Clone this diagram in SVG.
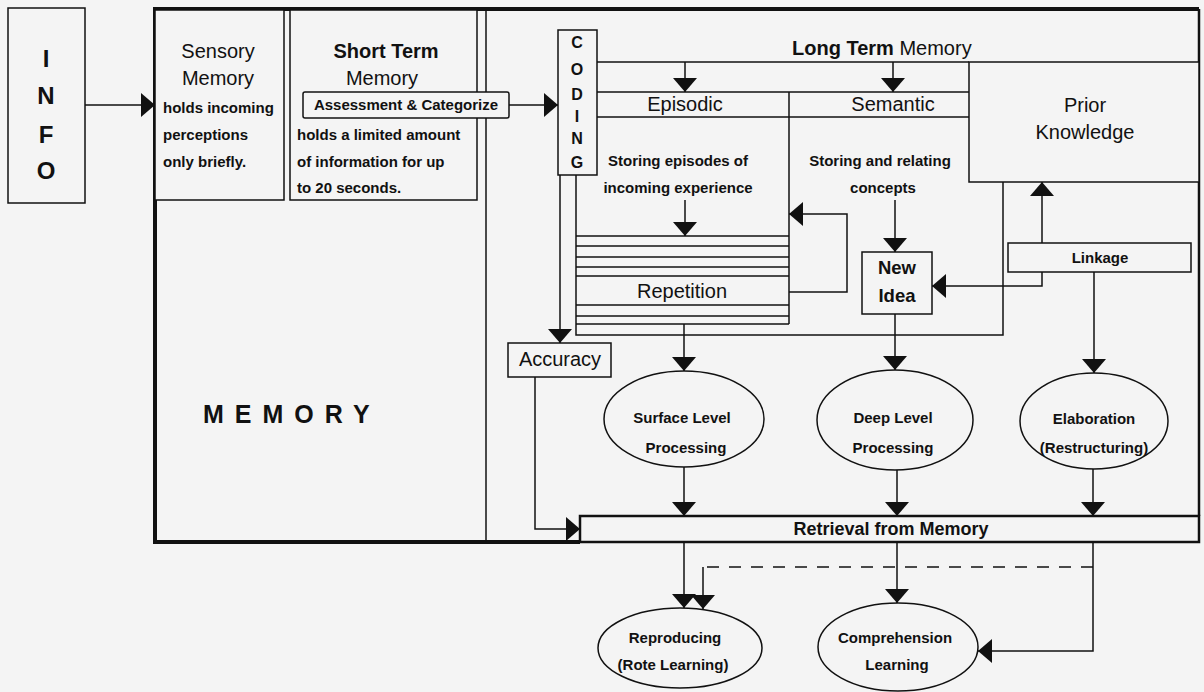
<svg xmlns="http://www.w3.org/2000/svg" width="1204" height="692" viewBox="0 0 1204 692">
<defs>
<marker id="ah" viewBox="0 0 14 24" markerWidth="14" markerHeight="24" refX="14" refY="12" orient="auto" markerUnits="userSpaceOnUse">
<path d="M0,0 L14,12 L0,24 Z" fill="#111"/>
</marker>
</defs>
<style>
text{font-family:"Liberation Sans",Arial,Helvetica,sans-serif;fill:#111}
.b{font-weight:bold}
.t20{font-size:20px}
.t15{font-size:15px;font-weight:bold}
.mid{text-anchor:middle}
.box{fill:#f4f4f4;stroke:#111;stroke-width:1.5}
.ln{fill:none;stroke:#111;stroke-width:1.5}
.arr{fill:none;stroke:#111;stroke-width:1.5;marker-end:url(#ah)}
.thick{fill:none;stroke:#111;stroke-width:4}
</style>
<rect width="1204" height="692" fill="#f4f4f4"/>

<g id="memory-frame">
<path class="thick" d="M580,542 H155 V9 H1199"/>
<path class="ln" d="M1199,9 V516" style="stroke-width:2.5"/>
<path class="ln" d="M486,9 V542"/>
<text x="203" y="423" class="b" style="font-size:25px;letter-spacing:11px">MEMORY</text>
</g>

<g id="info">
<rect class="box" x="8" y="8" width="77" height="195"/>
<text x="46" y="67" class="b mid" style="font-size:24px">I</text>
<text x="46" y="104" class="b mid" style="font-size:24px">N</text>
<text x="46" y="143" class="b mid" style="font-size:24px">F</text>
<text x="46" y="179" class="b mid" style="font-size:24px">O</text>
</g>

<g id="sensory">
<rect class="box" x="155" y="10" width="129" height="190"/>
<text x="218" y="58" class="t20 mid">Sensory</text>
<text x="218" y="85" class="t20 mid">Memory</text>
<text x="163" y="113" class="t15">holds incoming</text>
<text x="163" y="140" class="t15">perceptions</text>
<text x="163" y="167" class="t15">only briefly.</text>
</g>

<g id="short-term">
<rect class="box" x="290" y="10" width="187" height="190"/>
<text x="386" y="58" class="t20 b mid">Short Term</text>
<text x="382" y="85" class="t20 mid">Memory</text>
<text x="297" y="140" class="t15">holds a limited amount</text>
<text x="297" y="167" class="t15">of information for up</text>
<text x="297" y="193" class="t15">to 20 seconds.</text>
</g>

<g id="assessment">
<rect class="box" x="303" y="92" width="206" height="26" rx="2"/>
<text x="406" y="110" class="t15 mid">Assessment &amp; Categorize</text>
</g>

<g id="coding">
<rect class="box" x="558" y="30" width="39" height="145"/>
<text x="577" y="48" class="b mid" style="font-size:16px">C</text>
<text x="577" y="75" class="b mid" style="font-size:16px">O</text>
<text x="577" y="100" class="b mid" style="font-size:16px">D</text>
<text x="577" y="122" class="b mid" style="font-size:16px">I</text>
<text x="577" y="144" class="b mid" style="font-size:16px">N</text>
<text x="577" y="168" class="b mid" style="font-size:16px">G</text>
</g>

<g id="long-term">
<path class="ln" d="M597,62 H969 M597,92 H969 M597,117 H969 M789,92 V324 M576,175 V335 H1003 V182"/>
<text x="792" y="55" class="t20"><tspan class="b">Long Term</tspan> Memory</text>
</g>

<g id="episodic">
<text x="685" y="111" class="t20 mid">Episodic</text>
<text x="678" y="166" class="t15 mid">Storing episodes of</text>
<text x="678" y="193" class="t15 mid">incoming experience</text>
</g>

<g id="semantic">
<text x="893" y="111" class="t20 mid">Semantic</text>
<text x="880" y="166" class="t15 mid">Storing and relating</text>
<text x="883" y="193" class="t15 mid">concepts</text>
</g>

<g id="prior-knowledge">
<rect class="box" x="969" y="62" width="230" height="120"/>
<text x="1085" y="112" class="t20 mid">Prior</text>
<text x="1085" y="139" class="t20 mid">Knowledge</text>
</g>

<g id="repetition">
<path class="ln" d="M576,236 H789 M576,246 H789 M576,257 H789 M576,267 H789 M576,276 H789 M576,305 H789 M576,316 H789 M576,324 H789"/>
<text x="682" y="298" class="t20 mid">Repetition</text>
</g>

<g id="new-idea">
<rect class="box" x="862" y="252" width="70" height="62"/>
<text x="897" y="274" class="b mid" style="font-size:18.5px">New</text>
<text x="897" y="302" class="b mid" style="font-size:18.5px">Idea</text>
</g>

<g id="linkage">
<rect class="box" x="1008" y="243" width="183" height="29"/>
<text x="1100" y="263" class="t15 mid">Linkage</text>
</g>

<g id="accuracy">
<rect class="box" x="508" y="343" width="103" height="34"/>
<text x="560" y="366" class="t20 mid">Accuracy</text>
</g>

<g id="surface">
<ellipse class="box" cx="684" cy="419" rx="80" ry="48"/>
<text x="682" y="423" class="t15 mid">Surface Level</text>
<text x="686" y="453" class="t15 mid">Processing</text>
</g>

<g id="deep">
<ellipse class="box" cx="895" cy="420" rx="78" ry="50"/>
<text x="893" y="423" class="t15 mid">Deep Level</text>
<text x="893" y="453" class="t15 mid">Processing</text>
</g>

<g id="elaboration">
<ellipse class="box" cx="1094" cy="421" rx="74" ry="48"/>
<text x="1094" y="424" class="t15 mid">Elaboration</text>
<text x="1094" y="453" class="t15 mid">(Restructuring)</text>
</g>

<g id="retrieval">
<rect class="box" x="580" y="516" width="619" height="26" style="stroke-width:2.5"/>
<text x="891" y="535" class="b mid" style="font-size:18px">Retrieval from Memory</text>
</g>

<g id="reproducing">
<ellipse class="box" cx="680" cy="648" rx="82" ry="40"/>
<text x="675" y="643" class="t15 mid">Reproducing</text>
<text x="673" y="670" class="t15 mid">(Rote Learning)</text>
</g>

<g id="comprehension">
<ellipse class="box" cx="898" cy="647" rx="80" ry="44"/>
<text x="895" y="643" class="t15 mid">Comprehension</text>
<text x="897" y="670" class="t15 mid">Learning</text>
</g>

<g id="connectors">
<path class="arr" d="M85,105 H155"/>
<path class="arr" d="M509,105 H558"/>
<path class="arr" d="M685,62 V92"/>
<path class="arr" d="M893,62 V92"/>
<path class="arr" d="M685,200 V236"/>
<path class="arr" d="M789,292 H847 V214 H789"/>
<path class="arr" d="M895,200 V252"/>
<path class="arr" d="M1042,243 V182"/>
<path class="arr" d="M1042,272 V286 H932"/>
<path class="arr" d="M1094,272 V373"/>
<path class="arr" d="M895,314 V370"/>
<path class="arr" d="M684,324 V371"/>
<path class="arr" d="M560,175 V343"/>
<path class="arr" d="M535,377 V529 H580"/>
<path class="arr" d="M684,467 V516"/>
<path class="arr" d="M897,470 V516"/>
<path class="arr" d="M1093,469 V516"/>
<path class="arr" d="M684,542 V608"/>
<path class="arr" d="M897,542 V603"/>
<path class="arr" d="M1093,542 V651 H978"/>
<path class="ln" d="M1093,567 H703" style="stroke-dasharray:12 10"/>
<path class="arr" d="M703,567 V609"/>
</g>
</svg>
